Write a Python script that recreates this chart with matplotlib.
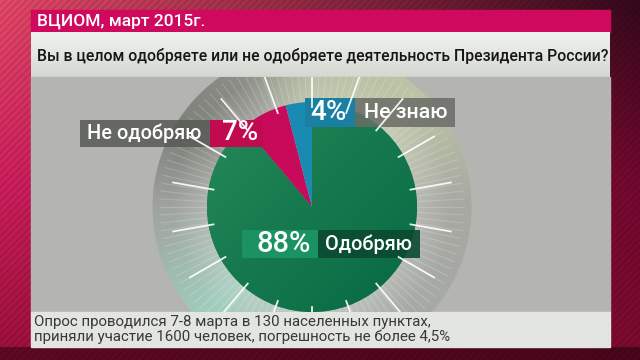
import numpy as np
import matplotlib
matplotlib.use('Agg')
import matplotlib.pyplot as plt
from matplotlib.patches import Rectangle

plt.rcParams['font.family'] = ['Roboto', 'DejaVu Sans']

# data
source = 'ВЦИОМ, март 2015г.'
question = 'Вы в целом одобряете или не одобряете деятельность Президента России?'
answers = ['Одобряю', 'Не одобряю', 'Не знаю']
shares = [88, 7, 4]
note = ['Опрос проводился 7-8 марта в 130 населенных пунктах,',
        'приняли участие 1600 человек, погрешность не более 4,5%']

W, H = 640, 360
fig = plt.figure(figsize=(6.4, 3.6), dpi=100)
bg = fig.add_axes([0, 0, 1, 1])
bg.axis('off')

# --- red frame behind the panel
ys = np.linspace(0, 1, H)[:, None]
xs = np.linspace(0, 1, W)[None, :]
left = np.array([[220, 70, 100], [200, 30, 90], [150, 15, 55]], float)
right = np.array([[50, 8, 25], [110, 8, 45], [120, 10, 45]], float)
def vgrad(cols):
    return np.stack([np.interp(ys[:, 0], [0, 0.5, 1], cols[:, k]) for k in range(3)], -1)
lc = vgrad(left)[:, None, :]
rc = vgrad(right)[:, None, :]
frame = lc + (rc - lc) * xs[..., None]
texture = 1 + 0.07 * np.sin((np.arange(W)[None, :] + np.arange(H)[:, None]) * 0.9)
frame = frame * texture[..., None]
frame[347:] *= 0.6
bg.imshow(np.clip(frame, 0, 255).astype(np.uint8), extent=(0, W, H, 0), aspect='auto', zorder=0)

# --- panel
px0, px1 = 31, 610
bg.add_patch(Rectangle((px0, 10), px1 - px0, 22, color='#cf0a5e', zorder=1))
band = np.linspace(0, 1, 45)[:, None, None] * (np.array([212, 216, 210]) - np.array([240, 242, 238])) + np.array([240, 242, 238])
band = np.repeat(band, 2, axis=1)
bg.imshow(band.astype(np.uint8), extent=(px0, px1, 77, 32), aspect='auto', zorder=1)
bg.add_patch(Rectangle((px0, 77), px1 - px0, 235, color='#b4b4b0', zorder=1))
bg.add_patch(Rectangle((px0, 312), px1 - px0, 35, color='#e3e6e0', zorder=1))
bg.set_xlim(0, W)
bg.set_ylim(H, 0)

bg.text(37, 21, source, color='white', fontsize=12.5, fontweight='medium',
        va='center', ha='left', zorder=3)
bg.text(37, 56, question, color='#161616', fontsize=11.3, fontweight='medium',
        va='center', ha='left', zorder=3)
bg.text(34, 322, note[0], color='#383838', fontsize=10.8, va='center', ha='left', zorder=3)
bg.text(34, 337, note[1], color='#383838', fontsize=10.8, va='center', ha='left', zorder=3)

# --- pie area (1 data unit = 1 pixel, origin at the pie centre)
cx, cy = 312, 207
ax = fig.add_axes([px0 / W, 1 - 312 / H, (px1 - px0) / W, 235 / H])

# outer ring
R_out, R_pie = 160, 105
n = 321
gy, gx = np.mgrid[-R_out:R_out:n * 1j, -R_out:R_out:n * 1j]
rr = np.hypot(gx, gy)
th = np.degrees(np.arctan2(gy, gx)) % 360
keys = [0, 45, 90, 120, 150, 180, 225, 270, 315, 360]
kc = np.array([[168, 168, 162], [188, 198, 166], [182, 192, 162], [140, 142, 135],
               [126, 128, 122], [160, 163, 158], [160, 206, 190], [178, 192, 182],
               [166, 170, 165], [168, 168, 162]], float)
ring = np.stack([np.interp(th, keys, kc[:, k]) for k in range(3)], -1)
w = np.clip((140 - rr) / 35, 0, 1)[..., None] * 0.35
ring = ring * (1 - w) + np.array([215, 215, 210]) * w
alpha = np.clip(R_out + 0.5 - rr, 0, 1) * 255
ring_img = np.dstack([ring, alpha]).astype(np.uint8)
ax.imshow(ring_img, extent=(-R_out, R_out, -R_out, R_out), origin='lower', zorder=1)

for a in np.radians(np.arange(0, 360, 3)):
    ax.plot([106 * np.cos(a), 152 * np.cos(a)], [106 * np.sin(a), 152 * np.sin(a)],
            color='white', alpha=0.18, lw=0.8, zorder=2)

wedges, _ = ax.pie(shares, colors=['#168a5a', '#c80a5a', '#1b8ab2'], startangle=90,
                   counterclock=False, radius=R_pie, wedgeprops=dict(linewidth=0))
for wdg in wedges:
    wdg.set_zorder(3)

# green shading
m = 211
hy, hx = np.mgrid[-R_pie:R_pie:m * 1j, -R_pie:R_pie:m * 1j]
s = np.clip((hx - hy) / (2 * R_pie) * 0.5 + 0.5, 0, 1)[..., None]
g_img = (np.array([38, 138, 90]) * (1 - s) + np.array([6, 104, 66]) * s).astype(np.uint8)
gim = ax.imshow(g_img, extent=(-R_pie, R_pie, -R_pie, R_pie), origin='lower', zorder=3.5)
gim.set_clip_path(wedges[0])

for a in np.radians(np.arange(10, 360, 20)):
    ax.plot([100 * np.cos(a), 141 * np.cos(a)], [100 * np.sin(a), 141 * np.sin(a)],
            color='white', alpha=0.9, lw=1.3, zorder=6)

ax.set_xlim(px0 - cx, px1 - cx)
ax.set_ylim(cy - 312, cy - 77)
ax.set_aspect('auto')
ax.axis('off')


def box(x0, y0, x1, y1, color, alpha=1.0):
    ax.add_patch(Rectangle((x0 - cx, cy - y1), x1 - x0, y1 - y0, facecolor=color,
                           alpha=alpha, linewidth=0, zorder=5))


def label(x, y, s, size):
    ax.text(x - cx, cy - y, s, color='white', fontsize=size, fontweight='medium',
            ha='center', va='center', zorder=7)


# "Не одобряю"
box(80, 120, 210, 147, '#585a55', 0.85)
box(210, 120, 263, 147, '#c20a50')
label(144, 133, answers[1], 14.3)
label(240, 133, f'{shares[1]}%', 20)
# "Не знаю"
box(305, 98, 355, 127, '#1a7fa3')
box(355, 98, 455, 127, '#6a6c66', 0.85)
label(328, 112, f'{shares[2]}%', 20)
label(406, 112, answers[2], 15.3)
# "Одобряю"
box(242, 230, 318, 258, '#1a9262')
box(318, 230, 420, 258, '#0b4a31', 0.9)
label(284, 244, f'{shares[0]}%', 21)
label(368, 244, answers[0], 14.3)

fig.savefig('out.png', dpi=100)
